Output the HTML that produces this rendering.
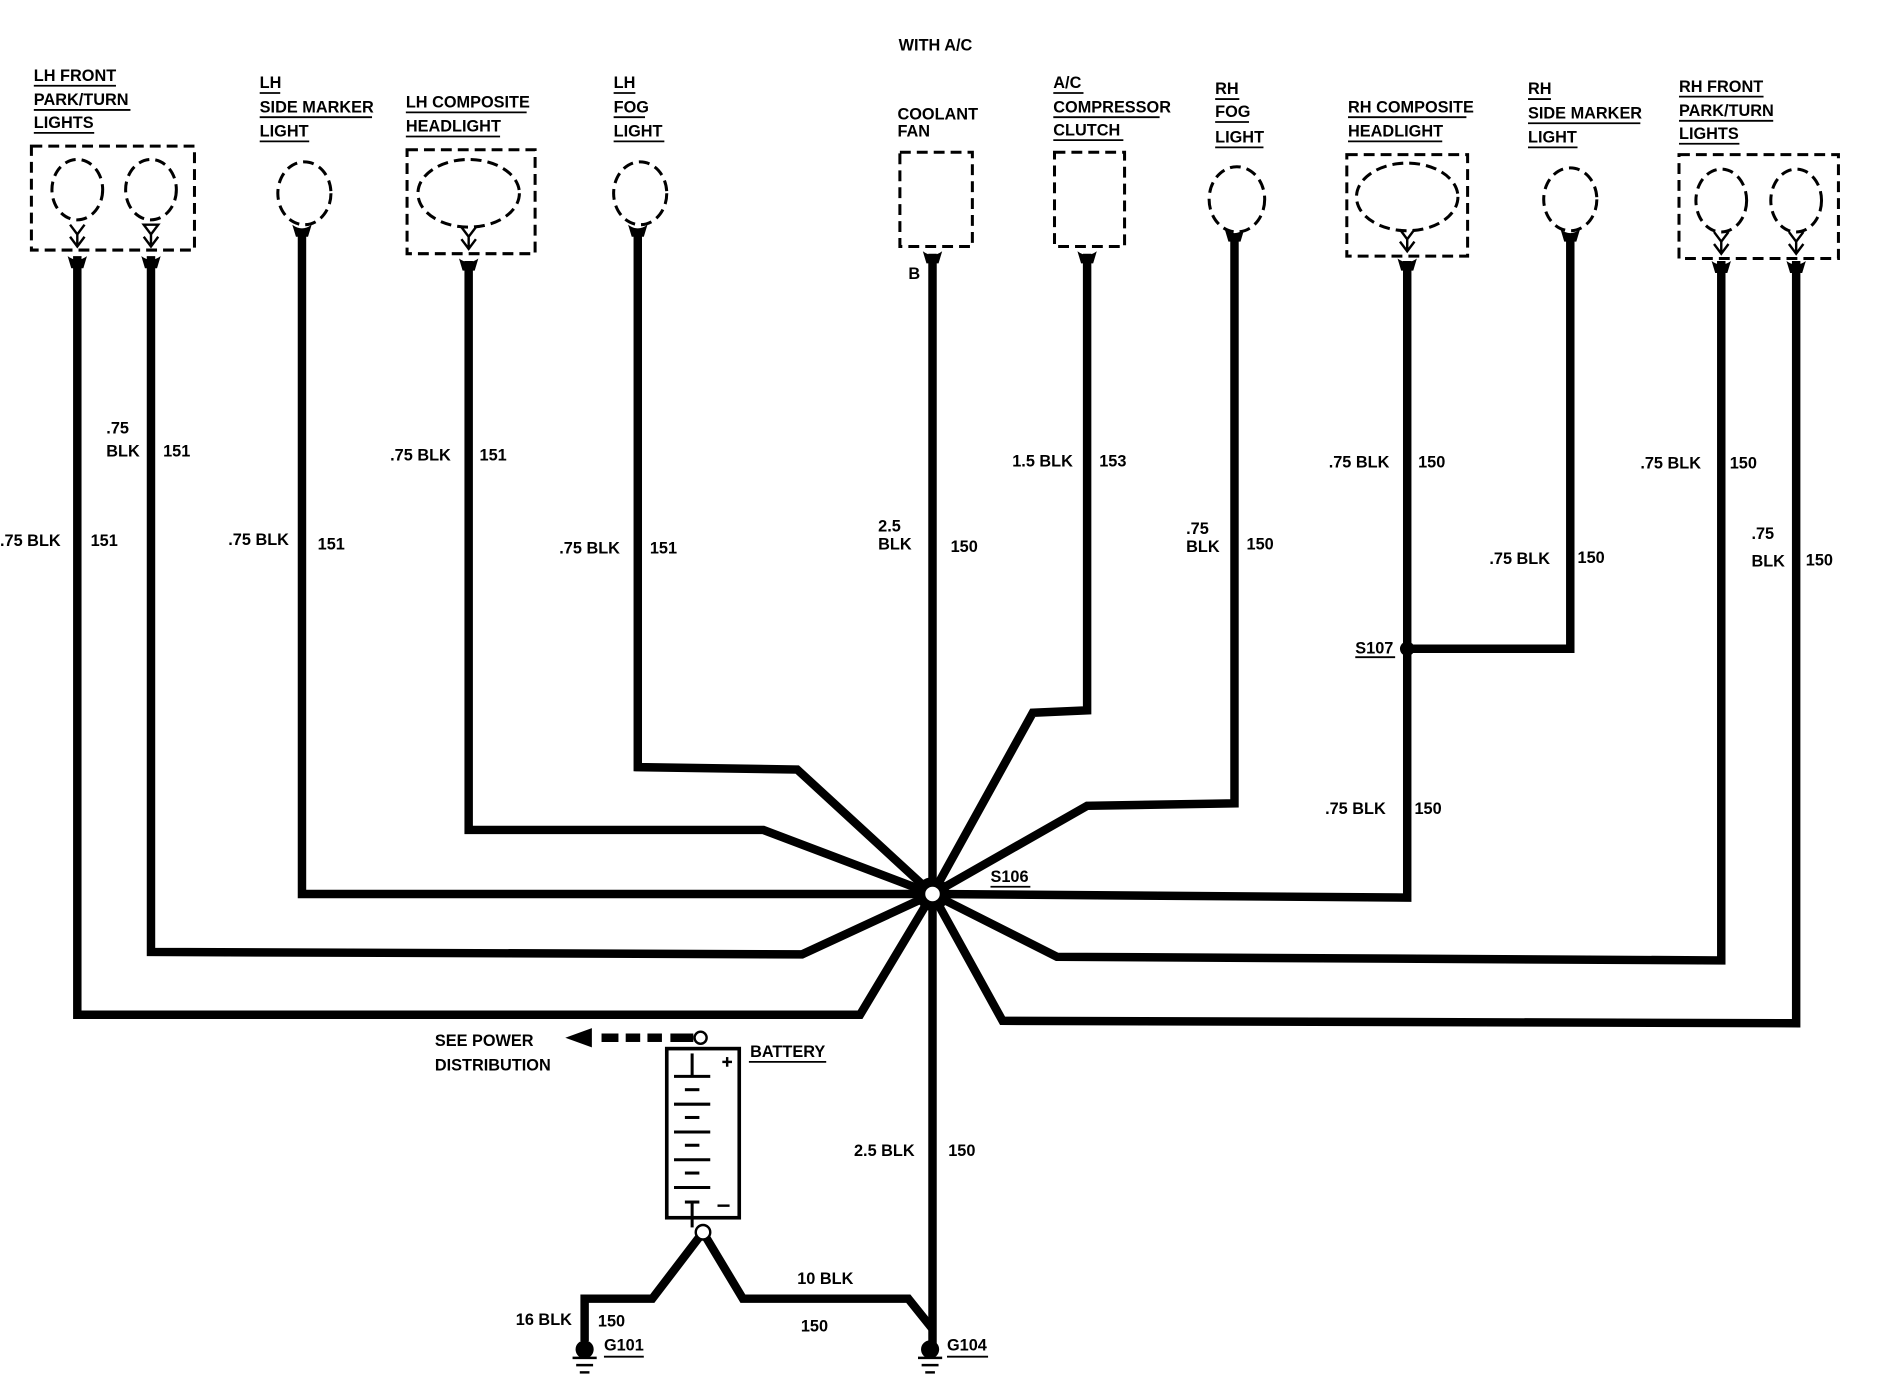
<!DOCTYPE html>
<html><head><meta charset="utf-8"><style>
html,body{margin:0;padding:0;background:#fff;width:1894px;height:1376px;overflow:hidden}
svg text{font-family:"Liberation Sans",sans-serif;font-weight:bold;font-size:13.5px;fill:#000}
</style></head><body>
<svg width="1894" height="1376" viewBox="0 0 1568 1139" preserveAspectRatio="none" xmlns="http://www.w3.org/2000/svg">
<g fill="none" stroke="#000" stroke-width="7" stroke-linejoin="miter">
<polyline points="64,212 64,840 712,840 772,740"/>
<polyline points="125,212 125,788 664,790 772,740"/>
<polyline points="250,190 250,740 772,740"/>
<polyline points="388,216 388,687 632,687 772,740"/>
<polyline points="528,190 528,635 660,637 772,740"/>
<polyline points="772,210 772,1112"/>
<polyline points="900,210 900,588 855,590 772,740"/>
<polyline points="1022,194 1022,665 900,667 772,740"/>
<polyline points="1165,216 1165,743 772,740"/>
<polyline points="1300,194 1300,537 1165,537"/>
<polyline points="1425,216 1425,795 875,792 772,740"/>
<polyline points="1487,216 1487,847 830,845 772,740"/>
<polyline points="772,1100 752,1075 615,1075 582,1020 540,1075 484,1075 484,1110"/>
</g>
<circle cx="772" cy="740" r="14" fill="#000"/><circle cx="772" cy="740" r="6" fill="#fff"/>
<circle cx="1165" cy="537" r="6" fill="#000"/>
<g fill="none" stroke="#000" stroke-width="2.5" stroke-dasharray="9,5">
<rect x="26" y="121" width="135" height="86"/>
<ellipse cx="64" cy="157" rx="21" ry="25"/><ellipse cx="125" cy="157" rx="21" ry="25"/>
<ellipse cx="252" cy="160" rx="22" ry="26"/>
<rect x="337" y="124" width="106" height="86"/>
<ellipse cx="388" cy="160" rx="42" ry="28"/>
<ellipse cx="530" cy="160" rx="22" ry="26"/>
<rect x="745" y="126" width="60" height="78"/>
<rect x="873" y="126" width="58" height="78"/>
<ellipse cx="1024" cy="165" rx="23" ry="27"/>
<rect x="1115" y="128" width="100" height="84"/>
<ellipse cx="1165" cy="163" rx="42" ry="28"/>
<ellipse cx="1300" cy="165" rx="22" ry="26"/>
<rect x="1390" y="128" width="132" height="86"/>
<ellipse cx="1425" cy="166" rx="21" ry="26"/><ellipse cx="1487" cy="166" rx="21" ry="26"/>
</g>
<g fill="none" stroke="#000" stroke-width="2">
<path d="M58,186 L64,194 L70,186 M64,194 L64,204 M58,196 L64,204 L70,196"/>
<path d="M119,186 L131,186 L125,194 Z M125,194 L125,204 M119,196 L125,204 L131,196"/>
<path d="M382,188 L388,196 L394,188 M388,196 L388,206 M382,198 L388,206 L394,198"/>
<path d="M1159,190 L1165,198 L1171,190 M1165,198 L1165,208 M1159,200 L1165,208 L1171,200"/>
<path d="M1419,192 L1425,200 L1431,192 M1425,200 L1425,210 M1419,202 L1425,210 L1431,202"/>
<path d="M1481,192 L1487,200 L1493,192 M1487,200 L1487,210 M1481,202 L1487,210 L1493,202"/>
</g>
<g fill="#000">
<path d="M56,212 Q64,218 72,212 L69,222 L59,222 Z"/>
<path d="M117,212 Q125,218 133,212 L130,222 L120,222 Z"/>
<path d="M242,186 Q250,192 258,186 L255,196 L245,196 Z"/>
<path d="M380,214 Q388,220 396,214 L393,224 L383,224 Z"/>
<path d="M520,186 Q528,192 536,186 L533,196 L523,196 Z"/>
<path d="M764,208 Q772,214 780,208 L777,218 L767,218 Z"/>
<path d="M892,208 Q900,214 908,208 L905,218 L895,218 Z"/>
<path d="M1014,190 Q1022,196 1030,190 L1027,200 L1017,200 Z"/>
<path d="M1157,214 Q1165,220 1173,214 L1170,224 L1160,224 Z"/>
<path d="M1292,190 Q1300,196 1308,190 L1305,200 L1295,200 Z"/>
<path d="M1417,216 Q1425,222 1433,216 L1430,226 L1420,226 Z"/>
<path d="M1479,216 Q1487,222 1495,216 L1492,226 L1482,226 Z"/>
</g>
<rect x="552" y="868" width="60" height="140" fill="none" stroke="#000" stroke-width="3"/>
<g stroke="#000" stroke-width="2.5">
<line x1="573" y1="872" x2="573" y2="890"/><line x1="558" y1="891" x2="588" y2="891"/>
<line x1="567" y1="902" x2="579" y2="902"/><line x1="558" y1="914" x2="588" y2="914"/>
<line x1="567" y1="925" x2="579" y2="925"/><line x1="558" y1="937" x2="588" y2="937"/>
<line x1="567" y1="948" x2="579" y2="948"/><line x1="558" y1="960" x2="588" y2="960"/>
<line x1="567" y1="971" x2="579" y2="971"/><line x1="558" y1="983" x2="588" y2="983"/>
<line x1="567" y1="995" x2="579" y2="995"/><line x1="573" y1="995" x2="573" y2="1016"/>
<line x1="594" y1="998" x2="604" y2="998" stroke-width="2"/>
<line x1="598" y1="879" x2="606" y2="879" stroke-width="2"/><line x1="602" y1="875" x2="602" y2="883" stroke-width="2"/>
</g>
<circle cx="582" cy="1020" r="6" fill="#fff" stroke="#000" stroke-width="2"/>
<circle cx="580" cy="859" r="5" fill="#fff" stroke="#000" stroke-width="2"/>
<g stroke="#000" stroke-width="7"><line x1="498" y1="859" x2="512" y2="859"/><line x1="518" y1="859" x2="530" y2="859"/><line x1="536" y1="859" x2="548" y2="859"/><line x1="555" y1="859" x2="574" y2="859"/></g>
<path d="M468,859 L490,851 L490,867 Z" fill="#000"/>
<line x1="620" y1="879" x2="684" y2="879" stroke="#000" stroke-width="1.5"/>
<g fill="#000" stroke="#000">
<circle cx="484" cy="1117" r="7"/><line x1="474" y1="1124" x2="494" y2="1124" stroke-width="2"/><line x1="477" y1="1130" x2="491" y2="1130" stroke-width="2"/><line x1="480" y1="1136" x2="488" y2="1136" stroke-width="2"/>
<circle cx="770" cy="1117" r="7"/><line x1="760" y1="1124" x2="780" y2="1124" stroke-width="2"/><line x1="763" y1="1130" x2="777" y2="1130" stroke-width="2"/><line x1="766" y1="1136" x2="774" y2="1136" stroke-width="2"/>
</g>
<g>
<text x="28" y="67">LH FRONT</text><text x="28" y="87">PARK/TURN</text><text x="28" y="106">LIGHTS</text>
<text x="215" y="73">LH</text><text x="215" y="93">SIDE MARKER</text><text x="215" y="113">LIGHT</text>
<text x="336" y="89">LH COMPOSITE</text><text x="336" y="109">HEADLIGHT</text>
<text x="508" y="73">LH</text><text x="508" y="93">FOG</text><text x="508" y="113">LIGHT</text>
<text x="744" y="42">WITH A/C</text>
<text x="743" y="99">COOLANT</text><text x="743" y="113">FAN</text>
<text x="872" y="73">A/C</text><text x="872" y="93">COMPRESSOR</text><text x="872" y="112">CLUTCH</text>
<text x="1006" y="78">RH</text><text x="1006" y="97">FOG</text><text x="1006" y="118">LIGHT</text>
<text x="1116" y="93">RH COMPOSITE</text><text x="1116" y="113">HEADLIGHT</text>
<text x="1265" y="78">RH</text><text x="1265" y="98">SIDE MARKER</text><text x="1265" y="118">LIGHT</text>
<text x="1390" y="76">RH FRONT</text><text x="1390" y="96">PARK/TURN</text><text x="1390" y="115">LIGHTS</text>
</g>
<g stroke="#000" stroke-width="1.5">
<line x1="28" y1="71" x2="96" y2="71"/><line x1="28" y1="91" x2="108" y2="91"/><line x1="28" y1="110" x2="78" y2="110"/>
<line x1="215" y1="77" x2="232" y2="77"/><line x1="215" y1="97" x2="308" y2="97"/><line x1="215" y1="117" x2="256" y2="117"/>
<line x1="336" y1="93" x2="436" y2="93"/><line x1="336" y1="113" x2="414" y2="113"/>
<line x1="508" y1="77" x2="526" y2="77"/><line x1="508" y1="97" x2="534" y2="97"/><line x1="508" y1="117" x2="550" y2="117"/>
<line x1="872" y1="77" x2="897" y2="77"/><line x1="872" y1="97" x2="960" y2="97"/><line x1="872" y1="116" x2="930" y2="116"/>
<line x1="1006" y1="82" x2="1026" y2="82"/><line x1="1006" y1="101" x2="1034" y2="101"/><line x1="1006" y1="122" x2="1046" y2="122"/>
<line x1="1116" y1="97" x2="1214" y2="97"/><line x1="1116" y1="117" x2="1194" y2="117"/>
<line x1="1265" y1="82" x2="1284" y2="82"/><line x1="1265" y1="102" x2="1358" y2="102"/><line x1="1265" y1="122" x2="1306" y2="122"/>
<line x1="1390" y1="80" x2="1460" y2="80"/><line x1="1390" y1="100" x2="1468" y2="100"/><line x1="1390" y1="119" x2="1440" y2="119"/>
<line x1="820" y1="734" x2="853" y2="734"/><line x1="1122" y1="544" x2="1155" y2="544"/>
<line x1="500" y1="1123" x2="533" y2="1123"/><line x1="784" y1="1123" x2="818" y2="1123"/>
</g>
<g>
<text x="0" y="452">.75 BLK</text><text x="75" y="452">151</text>
<text x="88" y="359">.75</text><text x="88" y="378">BLK</text><text x="135" y="378">151</text>
<text x="189" y="451">.75 BLK</text><text x="263" y="455">151</text>
<text x="323" y="381">.75 BLK</text><text x="397" y="381">151</text>
<text x="463" y="458">.75 BLK</text><text x="538" y="458">151</text>
<text x="752" y="231">B</text>
<text x="727" y="440">2.5</text><text x="727" y="455">BLK</text><text x="787" y="457">150</text>
<text x="838" y="386">1.5 BLK</text><text x="910" y="386">153</text>
<text x="982" y="442">.75</text><text x="982" y="457">BLK</text><text x="1032" y="455">150</text>
<text x="1100" y="387">.75  BLK</text><text x="1174" y="387">150</text>
<text x="1233" y="467">.75  BLK</text><text x="1306" y="466">150</text>
<text x="1358" y="388">.75  BLK</text><text x="1432" y="388">150</text>
<text x="1450" y="446">.75</text><text x="1450" y="469">BLK</text><text x="1495" y="468">150</text>
<text x="1122" y="541">S107</text>
<text x="1097" y="674">.75  BLK</text><text x="1171" y="674">150</text>
<text x="820" y="730">S106</text>
<text x="360" y="866">SEE POWER</text><text x="360" y="886">DISTRIBUTION</text>
<text x="621" y="875">BATTERY</text>
<text x="707" y="957">2.5 BLK</text><text x="785" y="957">150</text>
<text x="660" y="1063">10 BLK</text><text x="663" y="1102">150</text>
<text x="427" y="1097">16 BLK</text><text x="495" y="1098">150</text>
<text x="500" y="1118">G101</text><text x="784" y="1118">G104</text>
</g>
</svg>
</body></html>
